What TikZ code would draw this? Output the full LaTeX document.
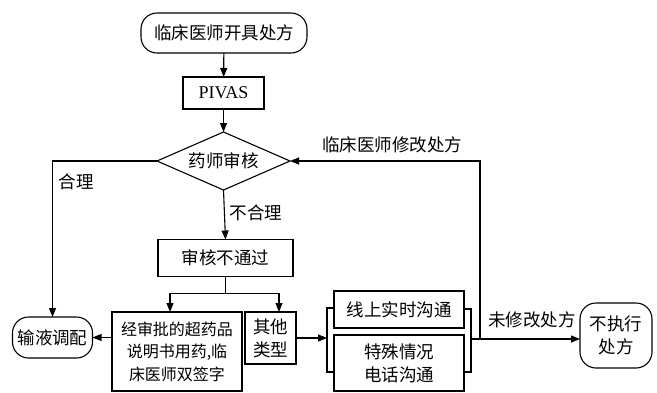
\documentclass[tikz,border=0pt]{standalone}
\usepackage{fontspec}
\setmainfont{Liberation Serif}
\newfontfamily\cjk{Noto Sans CJK SC}
\usetikzlibrary{arrows.meta,shapes.geometric,calc}
\begin{document}
\begin{tikzpicture}[x=1pt,y=-1pt,
  every node/.style={inner sep=0pt,outer sep=0pt,font=\cjk\fontsize{17.5}{23}\selectfont,align=center},
  box/.style={draw,line width=1.1pt,rectangle},
  rbox/.style={draw,line width=1.1pt,rectangle,rounded corners=16pt},
  dia/.style={draw,line width=1.1pt,diamond,aspect=2.3,minimum width=133pt,minimum height=58pt},
  conn/.style={line width=1.1pt},
  arr/.style={line width=1.1pt,-{Triangle[length=9pt,width=7pt]}},
  lbl/.style={font=\cjk\fontsize{17.5}{23}\selectfont}]
\useasboundingbox (0,0) rectangle (657,392);
\node[rbox,minimum width=166pt,minimum height=40pt] (start) at (224,33) {临床医师开具处方};
\node[box,minimum width=81pt,minimum height=32pt,font=\fontsize{18}{20}\selectfont] (pivas) at (223.5,93) {PIVAS};
\node[dia] (audit) at (223.5,161) {药师审核};
\node[rbox,minimum width=80pt,minimum height=41pt] (shuye) at (52.5,337.5) {输液调配};
\node[box,minimum width=135pt,minimum height=37pt] (fail) at (225.5,258) {审核不通过};
\node[box,minimum width=130pt,minimum height=79pt,font=\cjk\fontsize{16}{22.5}\selectfont] (appr) at (177,351.5) {经审批的超药品\\说明书用药,临\\床医师双签字};
\node[box,minimum width=51pt,minimum height=52pt,font=\cjk\fontsize{17.5}{23}\selectfont] (other) at (270.5,338) {其他\\类型};
\node[box,minimum width=130pt,minimum height=37pt] (online) at (399,309.5) {线上实时沟通};
\node[box,minimum width=130pt,minimum height=56pt] (special) at (399,363) {特殊情况\\电话沟通};
\node[rbox,minimum width=72pt,minimum height=65pt,rounded corners=16pt] (noexec) at (616,335.5) {不执行\\处方};
% labels
\node[lbl] (lmod) at (392,145) {临床医师修改处方};
\node[lbl] (lnomod) at (532,320) {未修改处方};
\node[lbl] (lok) at (76,182) {合理};
\node[lbl] (lbad) at (256,213) {不合理};
% connectors
\draw[arr] (start) -- (pivas);
\draw[arr] (pivas) -- (audit);
\draw[arr] (audit.west) -| (shuye.north);
\draw[arr] (audit.south) -- (fail.north);
\draw[conn] (fail.south) -- ++(0,17) coordinate (split);
\coordinate (sl) at ($(appr.north)+(-7,0)$);
\coordinate (sr) at ($(other.north)+(8.5,0)$);
\draw[arr] (split) -| (sl);
\draw[arr] (split) -| (sr);
\draw[arr] (appr.west |- shuye.east) -- (shuye.east);
% left bracket
\coordinate (blt) at ($(online.west)+(-7,-1.5)$);
\draw[conn] (online.west |- blt) -- (blt) -- (blt |- 0,372) -- (special.west |- 0,372);
\coordinate (bin) at (blt |- other.east);
\draw[arr] (other.east) -- (bin);
% right bracket
\coordinate (brt) at ($(online.east)+(7,-0.5)$);
\draw[conn] (online.east |- brt) -- (brt) -- (brt |- 0,372) -- (special.east |- 0,372);
\coordinate (bout) at (brt |- 0,339);
\draw[arr] (bout) -- (bout -| noexec.west);
\coordinate (up) at (480,339);
\draw[arr] (up) -- (up |- audit.east) -- (audit.east);
\end{tikzpicture}
\end{document}
